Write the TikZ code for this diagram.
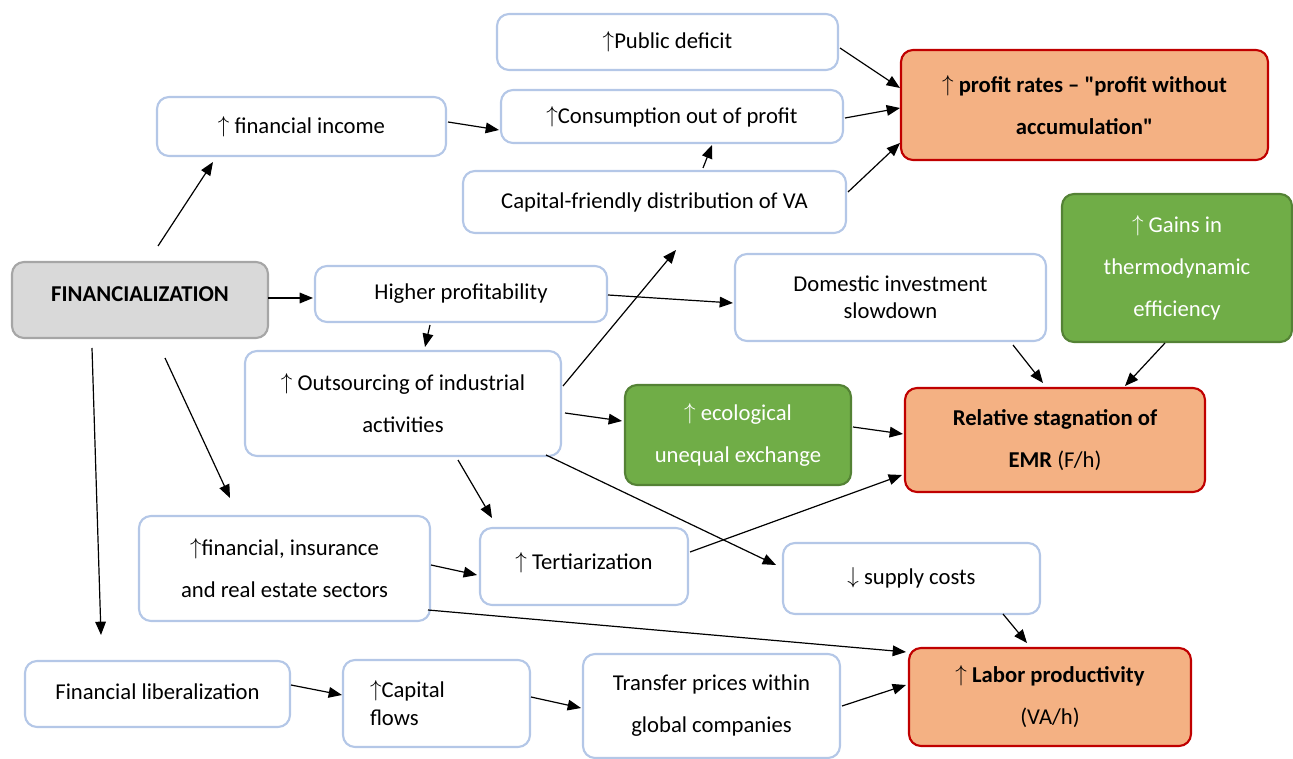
\documentclass[tikz,border=0pt]{standalone}
\usepackage{fontspec}
\setmainfont{Carlito}[Ligatures=TeXOff]
\usetikzlibrary{arrows.meta}
\newcommand\upa{\raisebox{0.1ex}{$\uparrow$}}
\newcommand\dna{\raisebox{0.1ex}{$\downarrow$}}
\definecolor{boxblue}{HTML}{B4C7E7}
\definecolor{orfill}{HTML}{F4B183}
\definecolor{redb}{HTML}{C00000}
\definecolor{grfill}{HTML}{70AD47}
\definecolor{grdark}{HTML}{548235}
\definecolor{gyfill}{HTML}{D9D9D9}
\definecolor{gydark}{HTML}{A6A6A6}
\tikzset{
  base/.style={rounded corners=9pt, line width=1.6pt, inner sep=0pt, align=center,
    font=\fontsize{17}{31.5}\selectfont},
  bluebox/.style={base, draw=boxblue, fill=white},
  orangebox/.style={base, draw=redb, fill=orfill},
  greenbox/.style={base, draw=grdark, fill=grfill, text=white},
  graybox/.style={base, draw=gydark, fill=gyfill},
  sz/.style 2 args={minimum width=#1*0.75pt, minimum height=#2*0.75pt},
  arr/.style={-{Triangle[length=10pt,width=8pt]}, line width=0.9pt, black}
}
\begin{document}
\begin{tikzpicture}[x=0.75pt, y=-0.75pt]
\useasboundingbox (0,0) rectangle (1293,759);
% nodes
\node[graybox, sz={256}{76}] (fin) at (140,300) {\raisebox{8.5pt}{\textbf{FINANCIALIZATION}}};
\node[bluebox, sz={341}{56}] (pubdef) at (667.5,42) {\upa Public deficit};
\node[bluebox, sz={289}{59}] (fininc) at (301.5,126.5) {\upa\ financial income};
\node[bluebox, sz={342}{53}] (consum) at (672,116.5) {\upa Consumption out of profit};
\node[bluebox, sz={383}{62}] (capfr) at (654.5,202) {\raisebox{2.25pt}{Capital-friendly distribution of VA}};
\node[orangebox, sz={367}{110}] (profit) at (1084.5,105) {\upa\ \textbf{profit rates – "profit without}\\\textbf{accumulation"}};
\node[bluebox, sz={292}{56}] (highprof) at (461,294) {Higher profitability};
\node[bluebox, sz={311}{87}, font=\fontsize{17}{20}\selectfont] (domestic) at (890.5,297.5) {Domestic investment\\slowdown};
\node[greenbox, sz={230}{148}] (gains) at (1177,268) {\upa\ Gains in\\thermodynamic\\efficiency};
\node[bluebox, sz={316}{105}] (outsrc) at (403,403.5) {\upa\ Outsourcing of industrial\\activities};
\node[greenbox, sz={226}{100}] (ecol) at (738,435) {\upa\ ecological\\unequal exchange};
\node[orangebox, sz={300}{104}] (emr) at (1055,440) {\textbf{Relative stagnation of}\\\textbf{EMR} (F/h)};
\node[bluebox, sz={291}{105}] (fire) at (284.5,568.5) {\upa financial, insurance\\and real estate sectors};
\node[bluebox, sz={208}{77}] (tert) at (584,566.5) {\raisebox{8.5pt}{\upa\ Tertiarization}};
\node[bluebox, sz={257}{71}] (supply) at (911.5,578.5) {\raisebox{3.75pt}{\dna\ supply costs}};
\node[bluebox, sz={265}{66}] (finlib) at (157.5,694) {\raisebox{3pt}{Financial liberalization}};
\node[bluebox, sz={187}{87}, text width=133*0.75pt, align=left, font=\fontsize{17}{21}\selectfont] (capflow) at (436.5,703.5) {\upa Capital\\flows};
\node[bluebox, sz={257}{104}] (transfer) at (711.5,706) {Transfer prices within\\global companies};
\node[orangebox, sz={282}{98}] (labor) at (1050,697) {\upa\ \textbf{Labor productivity}\\(VA/h)};
% connectors
\draw[arr] ([shift={(18,-54)}]fin.center) -- ([shift={(-88.5,35.5)}]fininc.center);
\draw[arr] ([shift={(128,-2)}]fin.center) -- ([shift={(-148,4)}]highprof.center);
\draw[arr] ([shift={(25,58)}]fin.center) -- ([shift={(-54.5,-70.5)}]fire.center);
\draw[arr] ([shift={(-48,48)}]fin.center) -- ([shift={(-56.5,-59)}]finlib.center);
\draw[arr] ([shift={(146.5,-4.5)}]fininc.center) -- ([shift={(-173,13.5)}]consum.center);
\draw[arr] ([shift={(172.5,6)}]pubdef.center) -- ([shift={(-184.5,-17)}]profit.center);
\draw[arr] ([shift={(173,1.5)}]consum.center) -- ([shift={(-184.5,3)}]profit.center);
\draw[arr] ([shift={(193.5,-10)}]capfr.center) -- ([shift={(-184.5,38)}]profit.center);
\draw[arr] ([shift={(48.5,-34)}]capfr.center) -- ([shift={(40,28.5)}]consum.center);
\draw[arr] ([shift={(147,1)}]highprof.center) -- ([shift={(-157.5,5.5)}]domestic.center);
\draw[arr] ([shift={(-31,31)}]highprof.center) -- ([shift={(22,-56.5)}]outsrc.center);
\draw[arr] ([shift={(160,-17.5)}]outsrc.center) -- ([shift={(21.5,48)}]capfr.center);
\draw[arr] ([shift={(162,9.5)}]outsrc.center) -- ([shift={(-116,-14)}]ecol.center);
\draw[arr] ([shift={(55,56.5)}]outsrc.center) -- ([shift={(-92,-48.5)}]tert.center);
\draw[arr] ([shift={(143,51.5)}]outsrc.center) -- ([shift={(-135.5,-13.5)}]supply.center);
\draw[arr] ([shift={(115,-8)}]ecol.center) -- ([shift={(-152,-6)}]emr.center);
\draw[arr] ([shift={(122.5,47.5)}]domestic.center) -- ([shift={(-12,-57)}]emr.center);
\draw[arr] ([shift={(-12,75)}]gains.center) -- ([shift={(70,-54)}]emr.center);
\draw[arr] ([shift={(106,-14.5)}]tert.center) -- ([shift={(-153,35)}]emr.center);
\draw[arr] ([shift={(146.5,-3.5)}]fire.center) -- ([shift={(-107,8.5)}]tert.center);
\draw[arr] ([shift={(143.5,41.5)}]fire.center) -- ([shift={(-144,-45)}]labor.center);
\draw[arr] ([shift={(91.5,35.5)}]supply.center) -- ([shift={(-23,-54)}]labor.center);
\draw[arr] ([shift={(133.5,-9)}]finlib.center) -- ([shift={(-94.5,-8.5)}]capflow.center);
\draw[arr] ([shift={(94.5,-6.5)}]capflow.center) -- ([shift={(-130.5,2)}]transfer.center);
\draw[arr] ([shift={(130.5,0)}]transfer.center) -- ([shift={(-144,-12)}]labor.center);
\end{tikzpicture}
\end{document}
